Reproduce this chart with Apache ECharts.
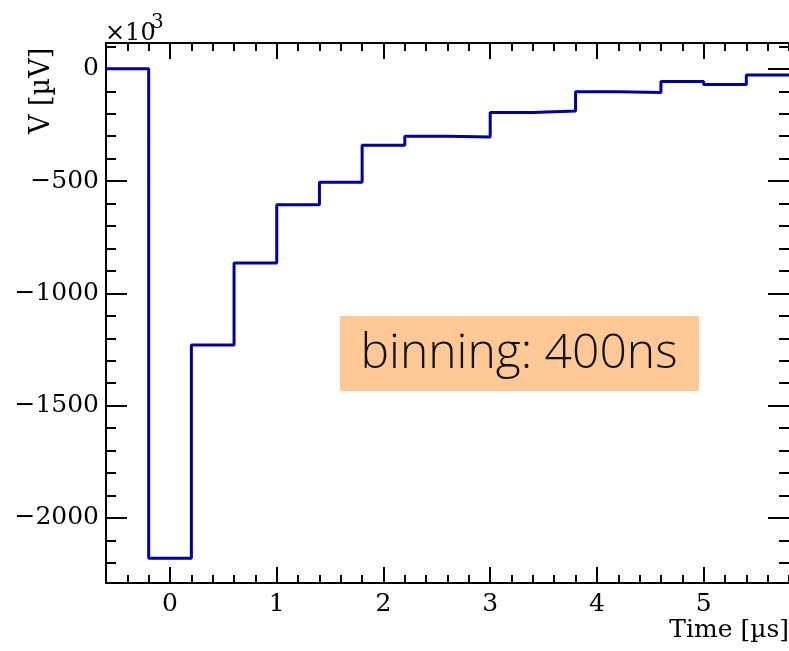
<!DOCTYPE html>
<html>
<head>
<meta charset="utf-8">
<script src="https://cdn.jsdelivr.net/npm/echarts@6/dist/echarts.min.js"></script>
<style>html,body{margin:0;padding:0;background:#fff}#c{width:789px;height:651px}</style>
</head>
<body>
<div id="c"></div>
<script>
// Histogram bin edges (µs) and bin contents (×10^3 µV)
const binEdges = [-0.6, -0.2, 0.2, 0.6, 1.0, 1.4, 1.8, 2.2, 2.6, 3.0, 3.4, 3.8, 4.2, 4.6, 5.0, 5.4, 5.8];
const binValues = [0, -2180, -1230, -865, -605, -505, -340, -300, -304, -195, -188, -102, -106, -56, -70, -27];

// Axis ticks / labels
const xMajorTicks = [0, 1, 2, 3, 4, 5];
const yMajorTicks = [-2000, -1500, -1000, -500, 0];
const yMinorTicks = [-2200, -2100, -1900, -1800, -1700, -1600, -1400, -1300, -1200, -1100, -900, -800, -700, -600, -400, -300, -200, -100, 100];

const xRange = [-0.6, 5.8];
const yRange = [-2290, 115];

const xTitle = 'Time [µs]';
const yTitle = 'V [µV]';
const exponentBase = '×10';
const exponent = '3';
const annotation = 'binning: 400ns';

const serifFont = 'DejaVu Serif';
const fmt = v => String(v).replace('-', '\u2212');

const stepData = binValues.map((v, i) => [binEdges[i], v]);
stepData.push([binEdges[binEdges.length - 1], binValues[binValues.length - 1]]);

const lineStyle = { color: '#000', width: 2 };

function xAx(pos, major, showLine, showLabel) {
  const ax = {
    type: 'value', position: pos, min: xRange[0], max: xRange[1],
    axisLine: { show: showLine, onZero: false, lineStyle },
    splitLine: { show: false },
    axisTick: { inside: true, length: major ? 16 : 8, lineStyle: { color: '#000', width: 2 } },
    axisLabel: { show: false }
  };
  if (major) {
    ax.axisTick.customValues = xMajorTicks;
    ax.axisLabel = showLabel ? {
      show: true, customValues: xMajorTicks, formatter: fmt,
      fontFamily: serifFont, fontSize: 25, color: '#000', margin: 9
    } : { show: false };
  } else {
    ax.interval = 0.2;
  }
  return ax;
}

function yAx(pos, major, showLine, showLabel) {
  return {
    type: 'value', position: pos, min: yRange[0], max: yRange[1],
    axisLine: { show: showLine, onZero: false, lineStyle },
    splitLine: { show: false },
    axisTick: { inside: true, length: major ? 21 : 10, customValues: major ? yMajorTicks : yMinorTicks,
      lineStyle: { color: '#000', width: 2 } },
    axisLabel: showLabel ? {
      show: true, customValues: yMajorTicks, formatter: fmt,
      fontFamily: serifFont, fontSize: 25, color: '#000', margin: 7
    } : { show: false }
  };
}

const chart = echarts.init(document.getElementById('c'), null, { renderer: 'canvas' });
chart.setOption({
  animation: false,
  backgroundColor: '#fff',
  grid: { left: 106, width: 686, top: 43, bottom: 68, containLabel: false },
  xAxis: [
    xAx('bottom', true, true, true),
    xAx('bottom', false, false, false),
    xAx('top', true, true, false),
    xAx('top', false, false, false)
  ],
  yAxis: [
    yAx('left', true, true, true),
    yAx('left', false, false, false),
    yAx('right', true, false, false),
    yAx('right', false, false, false)
  ],
  series: [{
    type: 'line', xAxisIndex: 0, yAxisIndex: 0, step: 'end',
    data: stepData, symbol: 'none',
    lineStyle: { color: '#00009a', width: 3 }, z: 5
  }],
  graphic: [
    {
      type: 'text', right: 0, top: 618,
      style: { text: xTitle, fontFamily: serifFont, fontSize: 25, fill: '#000' }
    },
    {
      type: 'text', x: 28, y: 134, rotation: Math.PI / 2,
      style: { text: yTitle, fontFamily: serifFont, fontSize: 27, fill: '#000', textAlign: 'left', textVerticalAlign: 'top' }
    },
    {
      type: 'text', x: 105, y: 34,
      style: { text: exponentBase, fontFamily: serifFont, fontSize: 24, fill: '#000', textAlign: 'left', textVerticalAlign: 'middle' }
    },
    {
      type: 'text', x: 151, y: 23,
      style: { text: exponent, fontFamily: serifFont, fontSize: 20, fill: '#000', textAlign: 'left', textVerticalAlign: 'middle' }
    },
    {
      type: 'rect', shape: { x: 340, y: 316, width: 359, height: 75 },
      style: { fill: '#fec996' }, z: 10
    },
    {
      type: 'text', x: 519, y: 354, z: 11,
      style: { text: annotation, fontFamily: 'Open Sans', fontWeight: 300, fontSize: 48, fill: '#111', textAlign: 'center', textVerticalAlign: 'middle' }
    }
  ]
});
</script>
</body>
</html>
